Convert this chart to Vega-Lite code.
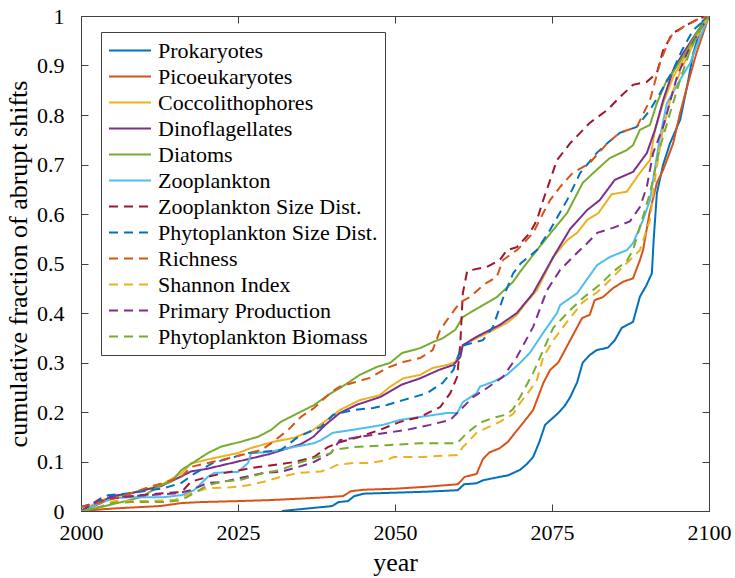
{
"$schema":"https://vega.github.io/schema/vega-lite/v6.json",
"width":628,"height":495,"autosize":"none",
"padding":{"left":81,"top":16,"right":26,"bottom":67},
"background":"white",
"config":{"view":{"stroke":"#404040","strokeWidth":1},
"font":"Liberation Serif",
"axis":{"grid":false,"domainColor":"#404040","tickColor":"#404040","tickSize":-7,"labelFont":"Liberation Serif","labelFontSize":22,"labelColor":"black","labelFlush":false,"titleFont":"Liberation Serif","titleFontWeight":"normal","titleColor":"black","titleFontSize":26},
"legend":{"orient":"none","legendX":20,"legendY":16,"fillColor":"white","strokeColor":"#404040","padding":7,"symbolType":"M-2,0H2","symbolSize":441,"symbolOffset":10.5,"symbolStrokeWidth":2,"labelFont":"Liberation Serif","labelFontSize":22,"labelLimit":400,"labelColor":"black","labelOffset":16.5,"rowPadding":3}},
"data":{"values":[
{"s":"Prokaryotes","x":2032,"y":0},{"s":"Prokaryotes","x":2036,"y":0.005},{"s":"Prokaryotes","x":2040,"y":0.01},{"s":"Prokaryotes","x":2041,"y":0.018},{"s":"Prokaryotes","x":2042.5,"y":0.02},{"s":"Prokaryotes","x":2043.5,"y":0.03},{"s":"Prokaryotes","x":2045,"y":0.035},{"s":"Prokaryotes","x":2050,"y":0.037},{"s":"Prokaryotes","x":2055,"y":0.039},{"s":"Prokaryotes","x":2060,"y":0.042},{"s":"Prokaryotes","x":2061,"y":0.054},{"s":"Prokaryotes","x":2063,"y":0.056},{"s":"Prokaryotes","x":2064,"y":0.062},{"s":"Prokaryotes","x":2066.7,"y":0.069},{"s":"Prokaryotes","x":2068,"y":0.072},{"s":"Prokaryotes","x":2069.9,"y":0.083},{"s":"Prokaryotes","x":2071,"y":0.095},{"s":"Prokaryotes","x":2072,"y":0.109},{"s":"Prokaryotes","x":2073,"y":0.14},{"s":"Prokaryotes","x":2073.9,"y":0.174},{"s":"Prokaryotes","x":2076,"y":0.198},{"s":"Prokaryotes","x":2077,"y":0.212},{"s":"Prokaryotes","x":2077.9,"y":0.23},{"s":"Prokaryotes","x":2079,"y":0.26},{"s":"Prokaryotes","x":2079.9,"y":0.3},{"s":"Prokaryotes","x":2081,"y":0.315},{"s":"Prokaryotes","x":2082.1,"y":0.325},{"s":"Prokaryotes","x":2083.9,"y":0.33},{"s":"Prokaryotes","x":2085,"y":0.345},{"s":"Prokaryotes","x":2086.1,"y":0.37},{"s":"Prokaryotes","x":2087.9,"y":0.382},{"s":"Prokaryotes","x":2089,"y":0.433},{"s":"Prokaryotes","x":2090,"y":0.455},{"s":"Prokaryotes","x":2090.9,"y":0.48},{"s":"Prokaryotes","x":2091.2,"y":0.55},{"s":"Prokaryotes","x":2091.7,"y":0.642},{"s":"Prokaryotes","x":2092.7,"y":0.7},{"s":"Prokaryotes","x":2093.8,"y":0.743},{"s":"Prokaryotes","x":2095.4,"y":0.79},{"s":"Prokaryotes","x":2096.5,"y":0.857},{"s":"Prokaryotes","x":2097.5,"y":0.925},{"s":"Prokaryotes","x":2099,"y":0.99},{"s":"Prokaryotes","x":2100,"y":1},
{"s":"Picoeukaryotes","x":2000,"y":0},{"s":"Picoeukaryotes","x":2005,"y":0.005},{"s":"Picoeukaryotes","x":2012.6,"y":0.01},{"s":"Picoeukaryotes","x":2016,"y":0.016},{"s":"Picoeukaryotes","x":2019,"y":0.018},{"s":"Picoeukaryotes","x":2025,"y":0.02},{"s":"Picoeukaryotes","x":2030,"y":0.022},{"s":"Picoeukaryotes","x":2035,"y":0.025},{"s":"Picoeukaryotes","x":2038,"y":0.027},{"s":"Picoeukaryotes","x":2041.7,"y":0.03},{"s":"Picoeukaryotes","x":2043,"y":0.04},{"s":"Picoeukaryotes","x":2045,"y":0.043},{"s":"Picoeukaryotes","x":2050,"y":0.045},{"s":"Picoeukaryotes","x":2055,"y":0.049},{"s":"Picoeukaryotes","x":2060,"y":0.054},{"s":"Picoeukaryotes","x":2061.1,"y":0.069},{"s":"Picoeukaryotes","x":2063,"y":0.075},{"s":"Picoeukaryotes","x":2064,"y":0.105},{"s":"Picoeukaryotes","x":2065,"y":0.118},{"s":"Picoeukaryotes","x":2066.7,"y":0.127},{"s":"Picoeukaryotes","x":2068,"y":0.14},{"s":"Picoeukaryotes","x":2068.8,"y":0.153},{"s":"Picoeukaryotes","x":2070.4,"y":0.178},{"s":"Picoeukaryotes","x":2072,"y":0.204},{"s":"Picoeukaryotes","x":2073.6,"y":0.258},{"s":"Picoeukaryotes","x":2074.7,"y":0.285},{"s":"Picoeukaryotes","x":2076,"y":0.3},{"s":"Picoeukaryotes","x":2077.9,"y":0.345},{"s":"Picoeukaryotes","x":2079.8,"y":0.39},{"s":"Picoeukaryotes","x":2081,"y":0.396},{"s":"Picoeukaryotes","x":2081.8,"y":0.426},{"s":"Picoeukaryotes","x":2083.1,"y":0.432},{"s":"Picoeukaryotes","x":2084.7,"y":0.45},{"s":"Picoeukaryotes","x":2086.3,"y":0.463},{"s":"Picoeukaryotes","x":2087.9,"y":0.47},{"s":"Picoeukaryotes","x":2089,"y":0.507},{"s":"Picoeukaryotes","x":2089.5,"y":0.527},{"s":"Picoeukaryotes","x":2090.5,"y":0.6},{"s":"Picoeukaryotes","x":2091.7,"y":0.663},{"s":"Picoeukaryotes","x":2092.7,"y":0.689},{"s":"Picoeukaryotes","x":2094.3,"y":0.743},{"s":"Picoeukaryotes","x":2095.4,"y":0.804},{"s":"Picoeukaryotes","x":2096.5,"y":0.857},{"s":"Picoeukaryotes","x":2098,"y":0.925},{"s":"Picoeukaryotes","x":2100,"y":1},
{"s":"Coccolithophores","x":2000,"y":0},{"s":"Coccolithophores","x":2001.5,"y":0.01},{"s":"Coccolithophores","x":2003.2,"y":0.022},{"s":"Coccolithophores","x":2008,"y":0.036},{"s":"Coccolithophores","x":2012.7,"y":0.052},{"s":"Coccolithophores","x":2016,"y":0.076},{"s":"Coccolithophores","x":2017.5,"y":0.096},{"s":"Coccolithophores","x":2021.2,"y":0.107},{"s":"Coccolithophores","x":2025,"y":0.117},{"s":"Coccolithophores","x":2027,"y":0.127},{"s":"Coccolithophores","x":2030.7,"y":0.14},{"s":"Coccolithophores","x":2034,"y":0.148},{"s":"Coccolithophores","x":2037,"y":0.164},{"s":"Coccolithophores","x":2039.8,"y":0.19},{"s":"Coccolithophores","x":2041.2,"y":0.204},{"s":"Coccolithophores","x":2044.4,"y":0.224},{"s":"Coccolithophores","x":2047.6,"y":0.234},{"s":"Coccolithophores","x":2049.2,"y":0.251},{"s":"Coccolithophores","x":2051.3,"y":0.268},{"s":"Coccolithophores","x":2054,"y":0.275},{"s":"Coccolithophores","x":2056,"y":0.289},{"s":"Coccolithophores","x":2058.3,"y":0.295},{"s":"Coccolithophores","x":2059.6,"y":0.301},{"s":"Coccolithophores","x":2060.8,"y":0.335},{"s":"Coccolithophores","x":2063,"y":0.349},{"s":"Coccolithophores","x":2065.1,"y":0.362},{"s":"Coccolithophores","x":2067.8,"y":0.38},{"s":"Coccolithophores","x":2069.4,"y":0.396},{"s":"Coccolithophores","x":2070.8,"y":0.42},{"s":"Coccolithophores","x":2072.6,"y":0.446},{"s":"Coccolithophores","x":2075.2,"y":0.513},{"s":"Coccolithophores","x":2077.4,"y":0.547},{"s":"Coccolithophores","x":2079,"y":0.562},{"s":"Coccolithophores","x":2080.6,"y":0.588},{"s":"Coccolithophores","x":2082.4,"y":0.602},{"s":"Coccolithophores","x":2084.5,"y":0.64},{"s":"Coccolithophores","x":2086.9,"y":0.645},{"s":"Coccolithophores","x":2089,"y":0.683},{"s":"Coccolithophores","x":2090.6,"y":0.709},{"s":"Coccolithophores","x":2091.4,"y":0.77},{"s":"Coccolithophores","x":2092.7,"y":0.824},{"s":"Coccolithophores","x":2094.3,"y":0.877},{"s":"Coccolithophores","x":2096.5,"y":0.925},{"s":"Coccolithophores","x":2098.6,"y":0.972},{"s":"Coccolithophores","x":2100,"y":1},
{"s":"Dinoflagellates","x":2000,"y":0},{"s":"Dinoflagellates","x":2003.2,"y":0.016},{"s":"Dinoflagellates","x":2004.8,"y":0.03},{"s":"Dinoflagellates","x":2008,"y":0.036},{"s":"Dinoflagellates","x":2012.7,"y":0.05},{"s":"Dinoflagellates","x":2016,"y":0.07},{"s":"Dinoflagellates","x":2017.5,"y":0.08},{"s":"Dinoflagellates","x":2020,"y":0.085},{"s":"Dinoflagellates","x":2025,"y":0.1},{"s":"Dinoflagellates","x":2030,"y":0.115},{"s":"Dinoflagellates","x":2035,"y":0.135},{"s":"Dinoflagellates","x":2037,"y":0.15},{"s":"Dinoflagellates","x":2039,"y":0.175},{"s":"Dinoflagellates","x":2041.2,"y":0.198},{"s":"Dinoflagellates","x":2044,"y":0.215},{"s":"Dinoflagellates","x":2047.6,"y":0.23},{"s":"Dinoflagellates","x":2051,"y":0.255},{"s":"Dinoflagellates","x":2054,"y":0.268},{"s":"Dinoflagellates","x":2057,"y":0.285},{"s":"Dinoflagellates","x":2059.3,"y":0.295},{"s":"Dinoflagellates","x":2060.4,"y":0.311},{"s":"Dinoflagellates","x":2060.8,"y":0.335},{"s":"Dinoflagellates","x":2063,"y":0.352},{"s":"Dinoflagellates","x":2066.7,"y":0.376},{"s":"Dinoflagellates","x":2069.4,"y":0.4},{"s":"Dinoflagellates","x":2072,"y":0.44},{"s":"Dinoflagellates","x":2075.2,"y":0.513},{"s":"Dinoflagellates","x":2077.9,"y":0.57},{"s":"Dinoflagellates","x":2080.6,"y":0.608},{"s":"Dinoflagellates","x":2082.6,"y":0.628},{"s":"Dinoflagellates","x":2085,"y":0.669},{"s":"Dinoflagellates","x":2087.9,"y":0.685},{"s":"Dinoflagellates","x":2090.1,"y":0.723},{"s":"Dinoflagellates","x":2091.4,"y":0.77},{"s":"Dinoflagellates","x":2092.7,"y":0.83},{"s":"Dinoflagellates","x":2094.3,"y":0.891},{"s":"Dinoflagellates","x":2095.9,"y":0.925},{"s":"Dinoflagellates","x":2098,"y":0.966},{"s":"Dinoflagellates","x":2100,"y":1},
{"s":"Diatoms","x":2000,"y":0},{"s":"Diatoms","x":2003.2,"y":0.008},{"s":"Diatoms","x":2006.4,"y":0.018},{"s":"Diatoms","x":2009.6,"y":0.028},{"s":"Diatoms","x":2012.7,"y":0.052},{"s":"Diatoms","x":2014.3,"y":0.059},{"s":"Diatoms","x":2016,"y":0.083},{"s":"Diatoms","x":2018,"y":0.099},{"s":"Diatoms","x":2020.2,"y":0.117},{"s":"Diatoms","x":2022.3,"y":0.13},{"s":"Diatoms","x":2025.5,"y":0.14},{"s":"Diatoms","x":2028.2,"y":0.15},{"s":"Diatoms","x":2030.3,"y":0.164},{"s":"Diatoms","x":2031.8,"y":0.18},{"s":"Diatoms","x":2034.6,"y":0.198},{"s":"Diatoms","x":2037.1,"y":0.214},{"s":"Diatoms","x":2039.8,"y":0.238},{"s":"Diatoms","x":2041.2,"y":0.248},{"s":"Diatoms","x":2044.4,"y":0.275},{"s":"Diatoms","x":2047.1,"y":0.291},{"s":"Diatoms","x":2049.2,"y":0.299},{"s":"Diatoms","x":2051.1,"y":0.319},{"s":"Diatoms","x":2054,"y":0.329},{"s":"Diatoms","x":2056,"y":0.341},{"s":"Diatoms","x":2057.6,"y":0.349},{"s":"Diatoms","x":2059.6,"y":0.366},{"s":"Diatoms","x":2060.8,"y":0.392},{"s":"Diatoms","x":2063.5,"y":0.412},{"s":"Diatoms","x":2066.2,"y":0.432},{"s":"Diatoms","x":2068.8,"y":0.463},{"s":"Diatoms","x":2069.9,"y":0.483},{"s":"Diatoms","x":2072.6,"y":0.527},{"s":"Diatoms","x":2075.2,"y":0.568},{"s":"Diatoms","x":2077.4,"y":0.602},{"s":"Diatoms","x":2079.9,"y":0.663},{"s":"Diatoms","x":2082.1,"y":0.689},{"s":"Diatoms","x":2084.2,"y":0.713},{"s":"Diatoms","x":2086.9,"y":0.729},{"s":"Diatoms","x":2087.9,"y":0.739},{"s":"Diatoms","x":2089,"y":0.77},{"s":"Diatoms","x":2090.6,"y":0.78},{"s":"Diatoms","x":2091.7,"y":0.824},{"s":"Diatoms","x":2093.3,"y":0.871},{"s":"Diatoms","x":2094.3,"y":0.887},{"s":"Diatoms","x":2096.5,"y":0.931},{"s":"Diatoms","x":2098.6,"y":0.978},{"s":"Diatoms","x":2100,"y":1},
{"s":"Zooplankton","x":2000,"y":0},{"s":"Zooplankton","x":2003,"y":0.016},{"s":"Zooplankton","x":2005.3,"y":0.026},{"s":"Zooplankton","x":2008,"y":0.028},{"s":"Zooplankton","x":2013.2,"y":0.028},{"s":"Zooplankton","x":2016,"y":0.032},{"s":"Zooplankton","x":2018,"y":0.042},{"s":"Zooplankton","x":2020.2,"y":0.069},{"s":"Zooplankton","x":2021.2,"y":0.077},{"s":"Zooplankton","x":2025,"y":0.079},{"s":"Zooplankton","x":2026.6,"y":0.097},{"s":"Zooplankton","x":2027.1,"y":0.117},{"s":"Zooplankton","x":2029.8,"y":0.119},{"s":"Zooplankton","x":2033,"y":0.127},{"s":"Zooplankton","x":2037.1,"y":0.137},{"s":"Zooplankton","x":2038.2,"y":0.143},{"s":"Zooplankton","x":2040.1,"y":0.158},{"s":"Zooplankton","x":2043.3,"y":0.164},{"s":"Zooplankton","x":2048.1,"y":0.174},{"s":"Zooplankton","x":2050.8,"y":0.184},{"s":"Zooplankton","x":2054,"y":0.19},{"s":"Zooplankton","x":2058.3,"y":0.198},{"s":"Zooplankton","x":2059.9,"y":0.198},{"s":"Zooplankton","x":2060.8,"y":0.22},{"s":"Zooplankton","x":2063,"y":0.238},{"s":"Zooplankton","x":2063.5,"y":0.251},{"s":"Zooplankton","x":2065.6,"y":0.261},{"s":"Zooplankton","x":2067.8,"y":0.275},{"s":"Zooplankton","x":2069.9,"y":0.299},{"s":"Zooplankton","x":2071.5,"y":0.32},{"s":"Zooplankton","x":2073.6,"y":0.36},{"s":"Zooplankton","x":2075.8,"y":0.4},{"s":"Zooplankton","x":2076.3,"y":0.416},{"s":"Zooplankton","x":2079,"y":0.44},{"s":"Zooplankton","x":2082.2,"y":0.497},{"s":"Zooplankton","x":2084.2,"y":0.513},{"s":"Zooplankton","x":2086.9,"y":0.527},{"s":"Zooplankton","x":2087.9,"y":0.541},{"s":"Zooplankton","x":2089.5,"y":0.588},{"s":"Zooplankton","x":2090.6,"y":0.628},{"s":"Zooplankton","x":2091.1,"y":0.669},{"s":"Zooplankton","x":2092.2,"y":0.756},{"s":"Zooplankton","x":2093.3,"y":0.824},{"s":"Zooplankton","x":2095.4,"y":0.871},{"s":"Zooplankton","x":2097,"y":0.905},{"s":"Zooplankton","x":2098.6,"y":0.958},{"s":"Zooplankton","x":2100,"y":1},
{"s":"Zooplankton Size Dist.","x":2000,"y":0.008},{"s":"Zooplankton Size Dist.","x":2002,"y":0.016},{"s":"Zooplankton Size Dist.","x":2005,"y":0.025},{"s":"Zooplankton Size Dist.","x":2008,"y":0.03},{"s":"Zooplankton Size Dist.","x":2013,"y":0.036},{"s":"Zooplankton Size Dist.","x":2016,"y":0.038},{"s":"Zooplankton Size Dist.","x":2017.5,"y":0.059},{"s":"Zooplankton Size Dist.","x":2020.2,"y":0.069},{"s":"Zooplankton Size Dist.","x":2022.8,"y":0.077},{"s":"Zooplankton Size Dist.","x":2025.5,"y":0.083},{"s":"Zooplankton Size Dist.","x":2028.2,"y":0.089},{"s":"Zooplankton Size Dist.","x":2030.7,"y":0.093},{"s":"Zooplankton Size Dist.","x":2034,"y":0.099},{"s":"Zooplankton Size Dist.","x":2037.1,"y":0.109},{"s":"Zooplankton Size Dist.","x":2039.3,"y":0.129},{"s":"Zooplankton Size Dist.","x":2041.2,"y":0.139},{"s":"Zooplankton Size Dist.","x":2044.4,"y":0.15},{"s":"Zooplankton Size Dist.","x":2047.6,"y":0.164},{"s":"Zooplankton Size Dist.","x":2050.8,"y":0.18},{"s":"Zooplankton Size Dist.","x":2054,"y":0.19},{"s":"Zooplankton Size Dist.","x":2057.2,"y":0.21},{"s":"Zooplankton Size Dist.","x":2058.8,"y":0.238},{"s":"Zooplankton Size Dist.","x":2059.9,"y":0.271},{"s":"Zooplankton Size Dist.","x":2060.4,"y":0.339},{"s":"Zooplankton Size Dist.","x":2060.8,"y":0.44},{"s":"Zooplankton Size Dist.","x":2061.5,"y":0.485},{"s":"Zooplankton Size Dist.","x":2064.6,"y":0.493},{"s":"Zooplankton Size Dist.","x":2066.7,"y":0.507},{"s":"Zooplankton Size Dist.","x":2067.8,"y":0.527},{"s":"Zooplankton Size Dist.","x":2069.4,"y":0.533},{"s":"Zooplankton Size Dist.","x":2071.5,"y":0.562},{"s":"Zooplankton Size Dist.","x":2072.6,"y":0.588},{"s":"Zooplankton Size Dist.","x":2073.6,"y":0.628},{"s":"Zooplankton Size Dist.","x":2075.8,"y":0.709},{"s":"Zooplankton Size Dist.","x":2077.9,"y":0.743},{"s":"Zooplankton Size Dist.","x":2081,"y":0.784},{"s":"Zooplankton Size Dist.","x":2083.8,"y":0.81},{"s":"Zooplankton Size Dist.","x":2085.8,"y":0.836},{"s":"Zooplankton Size Dist.","x":2087.9,"y":0.861},{"s":"Zooplankton Size Dist.","x":2090.1,"y":0.867},{"s":"Zooplankton Size Dist.","x":2091.7,"y":0.885},{"s":"Zooplankton Size Dist.","x":2092.7,"y":0.931},{"s":"Zooplankton Size Dist.","x":2094.3,"y":0.966},{"s":"Zooplankton Size Dist.","x":2096.5,"y":0.982},{"s":"Zooplankton Size Dist.","x":2098.6,"y":0.996},{"s":"Zooplankton Size Dist.","x":2100,"y":1},
{"s":"Phytoplankton Size Dist.","x":2000,"y":0},{"s":"Phytoplankton Size Dist.","x":2003.2,"y":0.022},{"s":"Phytoplankton Size Dist.","x":2004.3,"y":0.032},{"s":"Phytoplankton Size Dist.","x":2008,"y":0.036},{"s":"Phytoplankton Size Dist.","x":2013.2,"y":0.046},{"s":"Phytoplankton Size Dist.","x":2016,"y":0.057},{"s":"Phytoplankton Size Dist.","x":2018,"y":0.075},{"s":"Phytoplankton Size Dist.","x":2021,"y":0.097},{"s":"Phytoplankton Size Dist.","x":2026.6,"y":0.117},{"s":"Phytoplankton Size Dist.","x":2031.8,"y":0.123},{"s":"Phytoplankton Size Dist.","x":2034.6,"y":0.15},{"s":"Phytoplankton Size Dist.","x":2038.2,"y":0.17},{"s":"Phytoplankton Size Dist.","x":2039.8,"y":0.19},{"s":"Phytoplankton Size Dist.","x":2040.1,"y":0.194},{"s":"Phytoplankton Size Dist.","x":2043.3,"y":0.204},{"s":"Phytoplankton Size Dist.","x":2046.5,"y":0.208},{"s":"Phytoplankton Size Dist.","x":2048.7,"y":0.214},{"s":"Phytoplankton Size Dist.","x":2051.3,"y":0.224},{"s":"Phytoplankton Size Dist.","x":2055.1,"y":0.238},{"s":"Phytoplankton Size Dist.","x":2057.6,"y":0.259},{"s":"Phytoplankton Size Dist.","x":2059.3,"y":0.285},{"s":"Phytoplankton Size Dist.","x":2060.4,"y":0.325},{"s":"Phytoplankton Size Dist.","x":2061,"y":0.335},{"s":"Phytoplankton Size Dist.","x":2064,"y":0.345},{"s":"Phytoplankton Size Dist.","x":2065.6,"y":0.372},{"s":"Phytoplankton Size Dist.","x":2067.2,"y":0.43},{"s":"Phytoplankton Size Dist.","x":2068.8,"y":0.48},{"s":"Phytoplankton Size Dist.","x":2070,"y":0.5},{"s":"Phytoplankton Size Dist.","x":2072.6,"y":0.527},{"s":"Phytoplankton Size Dist.","x":2074.7,"y":0.568},{"s":"Phytoplankton Size Dist.","x":2077.4,"y":0.628},{"s":"Phytoplankton Size Dist.","x":2079.5,"y":0.683},{"s":"Phytoplankton Size Dist.","x":2082.1,"y":0.723},{"s":"Phytoplankton Size Dist.","x":2083.8,"y":0.743},{"s":"Phytoplankton Size Dist.","x":2085.8,"y":0.764},{"s":"Phytoplankton Size Dist.","x":2088.5,"y":0.776},{"s":"Phytoplankton Size Dist.","x":2090.6,"y":0.81},{"s":"Phytoplankton Size Dist.","x":2092.2,"y":0.844},{"s":"Phytoplankton Size Dist.","x":2094.3,"y":0.891},{"s":"Phytoplankton Size Dist.","x":2095.7,"y":0.931},{"s":"Phytoplankton Size Dist.","x":2097.5,"y":0.972},{"s":"Phytoplankton Size Dist.","x":2100,"y":1},
{"s":"Richness","x":2000,"y":0.008},{"s":"Richness","x":2003.2,"y":0.018},{"s":"Richness","x":2008,"y":0.036},{"s":"Richness","x":2010.7,"y":0.048},{"s":"Richness","x":2013.2,"y":0.057},{"s":"Richness","x":2016,"y":0.069},{"s":"Richness","x":2017.5,"y":0.089},{"s":"Richness","x":2020.2,"y":0.097},{"s":"Richness","x":2022.3,"y":0.103},{"s":"Richness","x":2025.5,"y":0.113},{"s":"Richness","x":2028.7,"y":0.123},{"s":"Richness","x":2030.3,"y":0.137},{"s":"Richness","x":2033,"y":0.164},{"s":"Richness","x":2035,"y":0.19},{"s":"Richness","x":2037.1,"y":0.208},{"s":"Richness","x":2039.8,"y":0.24},{"s":"Richness","x":2041.2,"y":0.251},{"s":"Richness","x":2043.3,"y":0.259},{"s":"Richness","x":2046,"y":0.269},{"s":"Richness","x":2048.7,"y":0.289},{"s":"Richness","x":2051.3,"y":0.301},{"s":"Richness","x":2054,"y":0.309},{"s":"Richness","x":2056,"y":0.325},{"s":"Richness","x":2057.2,"y":0.366},{"s":"Richness","x":2058.3,"y":0.386},{"s":"Richness","x":2060.4,"y":0.422},{"s":"Richness","x":2061.9,"y":0.432},{"s":"Richness","x":2063.5,"y":0.45},{"s":"Richness","x":2064.6,"y":0.461},{"s":"Richness","x":2066.2,"y":0.473},{"s":"Richness","x":2067.2,"y":0.507},{"s":"Richness","x":2069.4,"y":0.527},{"s":"Richness","x":2069.9,"y":0.533},{"s":"Richness","x":2072,"y":0.562},{"s":"Richness","x":2073.6,"y":0.602},{"s":"Richness","x":2074.7,"y":0.628},{"s":"Richness","x":2076.3,"y":0.655},{"s":"Richness","x":2078.3,"y":0.683},{"s":"Richness","x":2081,"y":0.703},{"s":"Richness","x":2083.8,"y":0.743},{"s":"Richness","x":2085.8,"y":0.764},{"s":"Richness","x":2088.5,"y":0.776},{"s":"Richness","x":2090.6,"y":0.83},{"s":"Richness","x":2092.2,"y":0.905},{"s":"Richness","x":2093.8,"y":0.958},{"s":"Richness","x":2095.9,"y":0.978},{"s":"Richness","x":2098.6,"y":0.996},{"s":"Richness","x":2100,"y":1},
{"s":"Shannon Index","x":2000,"y":0},{"s":"Shannon Index","x":2003,"y":0.008},{"s":"Shannon Index","x":2005.3,"y":0.02},{"s":"Shannon Index","x":2010.7,"y":0.02},{"s":"Shannon Index","x":2014.8,"y":0.022},{"s":"Shannon Index","x":2017.5,"y":0.036},{"s":"Shannon Index","x":2020.2,"y":0.046},{"s":"Shannon Index","x":2023.9,"y":0.048},{"s":"Shannon Index","x":2026.6,"y":0.052},{"s":"Shannon Index","x":2029.1,"y":0.059},{"s":"Shannon Index","x":2031.8,"y":0.069},{"s":"Shannon Index","x":2034.6,"y":0.077},{"s":"Shannon Index","x":2038.2,"y":0.08},{"s":"Shannon Index","x":2039.8,"y":0.087},{"s":"Shannon Index","x":2040.8,"y":0.093},{"s":"Shannon Index","x":2043.3,"y":0.097},{"s":"Shannon Index","x":2046,"y":0.097},{"s":"Shannon Index","x":2048.7,"y":0.103},{"s":"Shannon Index","x":2049.8,"y":0.109},{"s":"Shannon Index","x":2054,"y":0.109},{"s":"Shannon Index","x":2059.9,"y":0.113},{"s":"Shannon Index","x":2060.8,"y":0.129},{"s":"Shannon Index","x":2063,"y":0.158},{"s":"Shannon Index","x":2064.6,"y":0.168},{"s":"Shannon Index","x":2066.7,"y":0.18},{"s":"Shannon Index","x":2068.8,"y":0.196},{"s":"Shannon Index","x":2069.9,"y":0.218},{"s":"Shannon Index","x":2071.5,"y":0.244},{"s":"Shannon Index","x":2072.6,"y":0.265},{"s":"Shannon Index","x":2073.6,"y":0.311},{"s":"Shannon Index","x":2075.2,"y":0.345},{"s":"Shannon Index","x":2077.4,"y":0.382},{"s":"Shannon Index","x":2079.9,"y":0.422},{"s":"Shannon Index","x":2082.2,"y":0.442},{"s":"Shannon Index","x":2083.8,"y":0.461},{"s":"Shannon Index","x":2085.8,"y":0.487},{"s":"Shannon Index","x":2087.9,"y":0.513},{"s":"Shannon Index","x":2089,"y":0.527},{"s":"Shannon Index","x":2090.6,"y":0.588},{"s":"Shannon Index","x":2091.5,"y":0.68},{"s":"Shannon Index","x":2092.5,"y":0.76},{"s":"Shannon Index","x":2094,"y":0.84},{"s":"Shannon Index","x":2095.5,"y":0.89},{"s":"Shannon Index","x":2097,"y":0.93},{"s":"Shannon Index","x":2098.6,"y":0.97},{"s":"Shannon Index","x":2100,"y":1},
{"s":"Primary Production","x":2000,"y":0},{"s":"Primary Production","x":2003.2,"y":0.026},{"s":"Primary Production","x":2010.7,"y":0.032},{"s":"Primary Production","x":2015.4,"y":0.036},{"s":"Primary Production","x":2017.5,"y":0.042},{"s":"Primary Production","x":2020.2,"y":0.057},{"s":"Primary Production","x":2022.3,"y":0.058},{"s":"Primary Production","x":2025.5,"y":0.067},{"s":"Primary Production","x":2029.1,"y":0.077},{"s":"Primary Production","x":2031.8,"y":0.079},{"s":"Primary Production","x":2034.6,"y":0.089},{"s":"Primary Production","x":2037.1,"y":0.099},{"s":"Primary Production","x":2039.8,"y":0.117},{"s":"Primary Production","x":2041.2,"y":0.143},{"s":"Primary Production","x":2044.4,"y":0.15},{"s":"Primary Production","x":2048.7,"y":0.158},{"s":"Primary Production","x":2051.9,"y":0.164},{"s":"Primary Production","x":2055.6,"y":0.174},{"s":"Primary Production","x":2058.8,"y":0.184},{"s":"Primary Production","x":2060.4,"y":0.204},{"s":"Primary Production","x":2062.4,"y":0.23},{"s":"Primary Production","x":2064.6,"y":0.248},{"s":"Primary Production","x":2067.2,"y":0.271},{"s":"Primary Production","x":2069.4,"y":0.311},{"s":"Primary Production","x":2070,"y":0.325},{"s":"Primary Production","x":2072,"y":0.372},{"s":"Primary Production","x":2074.2,"y":0.446},{"s":"Primary Production","x":2076.3,"y":0.487},{"s":"Primary Production","x":2078.3,"y":0.513},{"s":"Primary Production","x":2080.6,"y":0.541},{"s":"Primary Production","x":2082.2,"y":0.562},{"s":"Primary Production","x":2084.7,"y":0.572},{"s":"Primary Production","x":2087.4,"y":0.585},{"s":"Primary Production","x":2089,"y":0.614},{"s":"Primary Production","x":2090.1,"y":0.655},{"s":"Primary Production","x":2091.1,"y":0.723},{"s":"Primary Production","x":2092.7,"y":0.776},{"s":"Primary Production","x":2094.9,"y":0.877},{"s":"Primary Production","x":2096.5,"y":0.925},{"s":"Primary Production","x":2098.5,"y":0.97},{"s":"Primary Production","x":2100,"y":1},
{"s":"Phytoplankton Biomass","x":2000,"y":0},{"s":"Phytoplankton Biomass","x":2003,"y":0.008},{"s":"Phytoplankton Biomass","x":2005,"y":0.016},{"s":"Phytoplankton Biomass","x":2008,"y":0.018},{"s":"Phytoplankton Biomass","x":2013.2,"y":0.018},{"s":"Phytoplankton Biomass","x":2016,"y":0.022},{"s":"Phytoplankton Biomass","x":2018,"y":0.036},{"s":"Phytoplankton Biomass","x":2020.2,"y":0.052},{"s":"Phytoplankton Biomass","x":2022.3,"y":0.059},{"s":"Phytoplankton Biomass","x":2025.5,"y":0.063},{"s":"Phytoplankton Biomass","x":2029.1,"y":0.077},{"s":"Phytoplankton Biomass","x":2031.8,"y":0.083},{"s":"Phytoplankton Biomass","x":2034.6,"y":0.097},{"s":"Phytoplankton Biomass","x":2037.1,"y":0.107},{"s":"Phytoplankton Biomass","x":2039.8,"y":0.117},{"s":"Phytoplankton Biomass","x":2040.1,"y":0.123},{"s":"Phytoplankton Biomass","x":2043.3,"y":0.129},{"s":"Phytoplankton Biomass","x":2048.7,"y":0.133},{"s":"Phytoplankton Biomass","x":2054,"y":0.137},{"s":"Phytoplankton Biomass","x":2059.9,"y":0.137},{"s":"Phytoplankton Biomass","x":2061.5,"y":0.158},{"s":"Phytoplankton Biomass","x":2063.5,"y":0.178},{"s":"Phytoplankton Biomass","x":2065.6,"y":0.188},{"s":"Phytoplankton Biomass","x":2067.8,"y":0.195},{"s":"Phytoplankton Biomass","x":2068.8,"y":0.206},{"s":"Phytoplankton Biomass","x":2069.9,"y":0.23},{"s":"Phytoplankton Biomass","x":2072,"y":0.279},{"s":"Phytoplankton Biomass","x":2073.6,"y":0.325},{"s":"Phytoplankton Biomass","x":2075.2,"y":0.37},{"s":"Phytoplankton Biomass","x":2077.9,"y":0.406},{"s":"Phytoplankton Biomass","x":2079.9,"y":0.43},{"s":"Phytoplankton Biomass","x":2082.6,"y":0.457},{"s":"Phytoplankton Biomass","x":2084.7,"y":0.483},{"s":"Phytoplankton Biomass","x":2086.9,"y":0.505},{"s":"Phytoplankton Biomass","x":2087.9,"y":0.527},{"s":"Phytoplankton Biomass","x":2089,"y":0.574},{"s":"Phytoplankton Biomass","x":2090.6,"y":0.642},{"s":"Phytoplankton Biomass","x":2092.2,"y":0.735},{"s":"Phytoplankton Biomass","x":2093.8,"y":0.804},{"s":"Phytoplankton Biomass","x":2095.4,"y":0.871},{"s":"Phytoplankton Biomass","x":2097,"y":0.931},{"s":"Phytoplankton Biomass","x":2098.6,"y":0.972},{"s":"Phytoplankton Biomass","x":2100,"y":1}
]},
"layer":[
{"mark":{"type":"line","strokeWidth":2,"clip":true},
"encoding":{
"x":{"field":"x","type":"quantitative","scale":{"domain":[2000,2100],"nice":false,"zero":false},"axis":{"orient":"bottom","values":[2000,2025,2050,2075,2100],"format":"d","labelPadding":18,"title":"year","titlePadding":6}},
"y":{"field":"y","type":"quantitative","scale":{"domain":[0,1],"nice":false},"axis":{"orient":"left","values":[0,0.1,0.2,0.3,0.4,0.5,0.6,0.7,0.8,0.9,1],"format":"~g","labelPadding":24,"title":"cumulative fraction of abrupt shifts","titlePadding":5}},
"color":{"field":"s","type":"nominal","legend":{"title":null},"scale":{"domain":["Prokaryotes","Picoeukaryotes","Coccolithophores","Dinoflagellates","Diatoms","Zooplankton","Zooplankton Size Dist.","Phytoplankton Size Dist.","Richness","Shannon Index","Primary Production","Phytoplankton Biomass"],"range":["#0072BD","#D95319","#EDB120","#7E2F8E","#77AC30","#4DBEEE","#A2142F","#0072BD","#D95319","#EDB120","#7E2F8E","#77AC30"]}},
"strokeDash":{"field":"s","type":"nominal","legend":{"title":null},"scale":{"domain":["Prokaryotes","Picoeukaryotes","Coccolithophores","Dinoflagellates","Diatoms","Zooplankton","Zooplankton Size Dist.","Phytoplankton Size Dist.","Richness","Shannon Index","Primary Production","Phytoplankton Biomass"],"range":[[1,0],[1,0],[1,0],[1,0],[1,0],[1,0],[9,6],[9,6],[9,6],[9,6],[9,6],[9,6]]}}
}},
{"mark":{"type":"point","opacity":0},
"encoding":{
"x":{"field":"x","type":"quantitative","axis":{"orient":"top","values":[2000,2025,2050,2075,2100],"labels":false,"title":null}},
"y":{"field":"y","type":"quantitative","axis":{"orient":"right","values":[0,0.1,0.2,0.3,0.4,0.5,0.6,0.7,0.8,0.9,1],"labels":false,"title":null}}
}}
],
"resolve":{"axis":{"x":"independent","y":"independent"}}
}
